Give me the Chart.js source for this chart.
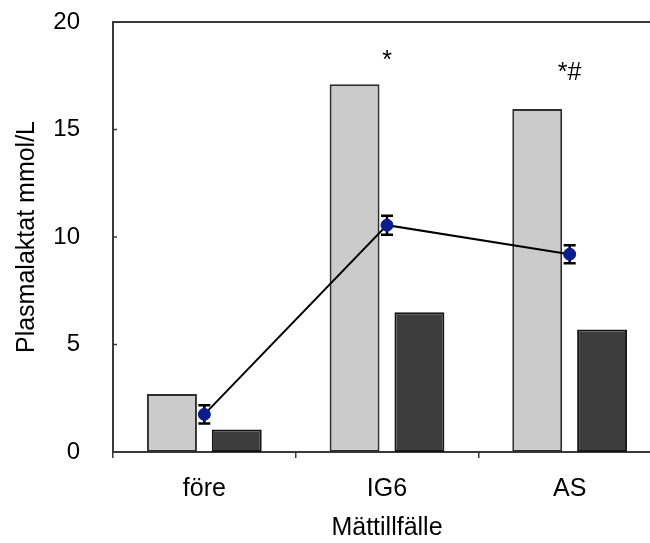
<!DOCTYPE html>
<html lang="sv">
<head>
    <meta charset="UTF-8">
    <title>Plasmalaktat</title>
    <style>
        html, body {
            margin: 0;
            padding: 0;
            background: #FFFFFF;
            overflow: hidden;
        }
        #wrap {
            width: 680px;
            height: 543px;
        }
    </style>
</head>
<body>
    <div id="wrap">
        <canvas id="lactate" width="680" height="543"></canvas>
    </div>

    <script src="https://cdn.jsdelivr.net/npm/chart.js"></script>
    <script>
        // Values
        const categories = ['före', 'IG6', 'AS'];
        const lightBars = [2.7, 17.1, 15.95];
        const darkBars = [1.05, 6.5, 5.7];
        const meanLine = [1.75, 10.55, 9.2];
        const meanErr = [0.42, 0.44, 0.42];
        const sigMarks = ['', '*', '*#'];
        const sigMarkY = [null, 18.35, 17.8];
        const yTicks = [0, 5, 10, 15, 20];

        const FONT = '"Liberation Sans", Arial, Helvetica, sans-serif';
        const AXIS = '#3a3a3a';

        // error bars, inward y ticks, top frame line, significance marks
        const extras = {
            id: 'extras',
            beforeDatasetDraw(chart, args) {
                if (args.index !== 2) return;
                const ctx = chart.ctx;
                const y = chart.scales.y;
                const meta = chart.getDatasetMeta(2);
                ctx.save();
                ctx.strokeStyle = '#000000';
                ctx.lineWidth = 2.5;
                meta.data.forEach((pt, i) => {
                    const yTop = y.getPixelForValue(meanLine[i] + meanErr[i]);
                    const yBot = y.getPixelForValue(meanLine[i] - meanErr[i]);
                    ctx.beginPath();
                    ctx.moveTo(pt.x, yTop);
                    ctx.lineTo(pt.x, yBot);
                    ctx.moveTo(pt.x - 6, yTop);
                    ctx.lineTo(pt.x + 6, yTop);
                    ctx.moveTo(pt.x - 6, yBot);
                    ctx.lineTo(pt.x + 6, yBot);
                    ctx.stroke();
                });
                ctx.restore();
            },
            afterDraw(chart) {
                const ctx = chart.ctx;
                const area = chart.chartArea;
                const x = chart.scales.x;
                const y = chart.scales.y;
                ctx.save();
                // top frame line
                ctx.strokeStyle = AXIS;
                ctx.lineWidth = 2;
                ctx.beginPath();
                ctx.moveTo(area.left - 1, area.top);
                ctx.lineTo(area.right + 20, area.top);
                ctx.stroke();
                // inward y ticks
                ctx.lineWidth = 1.5;
                yTicks.forEach(v => {
                    const py = y.getPixelForValue(v);
                    ctx.beginPath();
                    ctx.moveTo(area.left, py);
                    ctx.lineTo(area.left + 4, py);
                    ctx.stroke();
                });
                // significance marks
                ctx.fillStyle = '#000000';
                ctx.font = '25px ' + FONT;
                ctx.textAlign = 'center';
                ctx.textBaseline = 'middle';
                sigMarks.forEach((m, i) => {
                    if (!m) return;
                    ctx.fillText(m, x.getPixelForValue(i), y.getPixelForValue(sigMarkY[i]) + 4);
                });
                ctx.restore();
            }
        };

        const ctx = document.getElementById('lactate').getContext('2d');
        new Chart(ctx, {
            type: 'bar',
            data: {
                labels: categories,
                datasets: [
                    {
                        label: 'ljus',
                        data: lightBars,
                        backgroundColor: '#cbcbcb',
                        borderColor: '#2e2e2e',
                        borderWidth: 2,
                        borderSkipped: false,
                        categoryPercentage: 0.71,
                        barPercentage: 0.77,
                        order: 2
                    },
                    {
                        label: 'mörk',
                        data: darkBars,
                        backgroundColor: '#3d3d3d',
                        borderColor: '#151515',
                        borderWidth: 2,
                        borderSkipped: false,
                        categoryPercentage: 0.71,
                        barPercentage: 0.77,
                        order: 2
                    },
                    {
                        type: 'line',
                        label: 'medel',
                        data: meanLine,
                        borderColor: '#000000',
                        borderWidth: 2,
                        pointRadius: 6,
                        pointBackgroundColor: '#0c1c8c',
                        pointBorderColor: '#0c1c8c',
                        pointBorderWidth: 1,
                        tension: 0,
                        fill: false,
                        order: 0
                    }
                ]
            },
            options: {
                responsive: false,
                animation: false,
                devicePixelRatio: 1,
                layout: {
                    padding: { left: 0, top: 22, right: 19, bottom: 0 }
                },
                plugins: {
                    legend: { display: false },
                    tooltip: { enabled: false }
                },
                scales: {
                    x: {
                        afterFit(scale) {
                            scale.height = 91;
                            scale.paddingLeft = 0;
                            scale.paddingRight = 0;
                        },
                        grid: {
                            display: true,
                            drawOnChartArea: false,
                            drawTicks: true,
                            tickLength: 6,
                            color: AXIS,
                            lineWidth: 1.5
                        },
                        border: { display: true, color: AXIS, width: 2 },
                        ticks: {
                            color: '#000000',
                            padding: 16,
                            font: { family: FONT, size: 25 }
                        },
                        title: {
                            display: true,
                            text: 'Mättillfälle',
                            color: '#000000',
                            padding: { top: 0, bottom: 0 },
                            font: { family: FONT, size: 25 }
                        }
                    },
                    y: {
                        min: 0,
                        max: 20,
                        afterFit(scale) {
                            scale.width = 113;
                            scale.paddingTop = 0;
                            scale.paddingBottom = 0;
                        },
                        afterBuildTicks(scale) {
                            scale.ticks = yTicks.map(v => ({ value: v }));
                        },
                        grid: { display: false, drawTicks: false },
                        border: { display: true, color: AXIS, width: 2 },
                        ticks: {
                            color: '#000000',
                            padding: 33,
                            font: { family: FONT, size: 24 }
                        },
                        title: {
                            display: true,
                            text: 'Plasmalaktat mmol/L',
                            color: '#000000',
                            padding: { top: 12, bottom: 0 },
                            font: { family: FONT, size: 25 }
                        }
                    }
                }
            },
            plugins: [extras]
        });
    </script>
</body>
</html>
